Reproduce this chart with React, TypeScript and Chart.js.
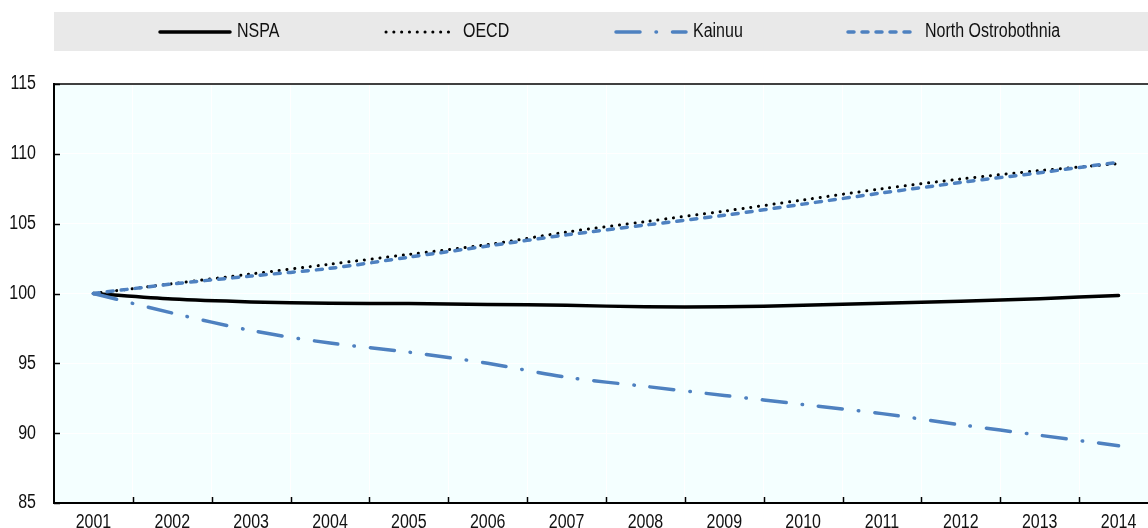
import React, { useEffect, useRef } from "react";
import { Chart, registerables } from "chart.js";

Chart.register(...registerables);

// ---- Data ----
const years = ["2001", "2002", "2003", "2004", "2005", "2006", "2007", "2008", "2009", "2010", "2011", "2012", "2013", "2014"];
const nspa = [100, 99.6, 99.4, 99.3, 99.28, 99.22, 99.15, 99.05, 99.05, 99.15, 99.3, 99.45, 99.63, 99.86];
const oecd = [100, 100.7, 101.4, 102.1, 102.8, 103.5, 104.4, 105.15, 105.9, 106.7, 107.5, 108.2, 108.8, 109.3];
const kainuu = [100, 98.6, 97.35, 96.45, 95.8, 95.0, 94.0, 93.35, 92.7, 92.05, 91.4, 90.6, 89.85, 89.1];
const northOstrobothnia = [100, 100.68, 101.25, 101.8, 102.6, 103.4, 104.2, 104.9, 105.6, 106.4, 107.2, 107.95, 108.65, 109.4];
const seriesNames = ["NSPA", "OECD", "Kainuu", "North Ostrobothnia"];
const yMin = 85;
const yMax = 115;
const yStep = 5;

const BLUE = "#4E81C0";
const FONT = "'Liberation Sans', Arial, Helvetica, sans-serif";
const FONT_SIZE = 19.5;
const NARROW = 0.82;

function narrowText(ctx: CanvasRenderingContext2D, text: string, x: number, y: number, align: CanvasTextAlign) {
  ctx.save();
  ctx.translate(x, y);
  ctx.scale(NARROW, 1);
  ctx.font = `${FONT_SIZE}px ${FONT}`;
  ctx.fillStyle = "#111111";
  ctx.textAlign = align;
  ctx.textBaseline = "middle";
  ctx.fillText(text, 0, 0);
  ctx.restore();
}

export default function App() {
  const ref = useRef<HTMLCanvasElement>(null);

  useEffect(() => {
    const canvas = ref.current;
    if (!canvas) return;

    const decorPlugin = {
      id: "decor",
      beforeDraw(chart: any) {
        const { ctx, chartArea: a } = chart;
        ctx.save();
        ctx.fillStyle = "#E9E9E9";
        ctx.fillRect(a.left, 12, chart.width - a.left, 39);
        ctx.fillStyle = "#F4FFFF";
        ctx.fillRect(a.left, a.top, a.right - a.left, a.bottom - a.top);
        ctx.restore();
      },
      afterDraw(chart: any) {
        const { ctx, chartArea: a } = chart;
        const xs = chart.scales.x;
        const ys = chart.scales.y;
        ctx.save();
        // top border
        ctx.strokeStyle = "#000";
        ctx.lineWidth = 1.5;
        ctx.beginPath();
        ctx.moveTo(a.left, a.top);
        ctx.lineTo(a.right, a.top);
        ctx.stroke();
        // inward x ticks between categories
        const band = xs.getPixelForValue(1) - xs.getPixelForValue(0);
        for (let i = 1; i < years.length; i++) {
          const x = Math.round(xs.getPixelForValue(i) - band / 2) + 0.5;
          ctx.beginPath();
          ctx.moveTo(x, a.bottom);
          ctx.lineTo(x, a.bottom - 6);
          ctx.stroke();
        }
        // inward y ticks + y labels
        ys.ticks.forEach((t: any) => {
          const yp = ys.getPixelForValue(t.value);
          const y = Math.round(yp) + 0.5;
          ctx.beginPath();
          ctx.moveTo(a.left, y);
          ctx.lineTo(a.left + 6, y);
          ctx.stroke();
          narrowText(ctx, String(t.value), a.left - 18, yp, "right");
        });
        // x labels
        years.forEach((lab, i) => {
          narrowText(ctx, lab, xs.getPixelForValue(i), a.bottom + 19.5, "center");
        });
        // legend
        const offsets = [106, 332, 562, 794];
        const ly = 32;
        chart.data.datasets.forEach((ds: any, i: number) => {
          const x0 = a.left + offsets[i];
          ctx.save();
          ctx.strokeStyle = ds.borderColor;
          ctx.lineWidth = ds.borderWidth;
          ctx.lineCap = ds.borderCapStyle || "butt";
          ctx.setLineDash(ds.borderDash || []);
          ctx.beginPath();
          ctx.moveTo(x0, ly);
          ctx.lineTo(x0 + 70, ly);
          ctx.stroke();
          ctx.restore();
          narrowText(ctx, ds.label, x0 + 77, ly, "left");
        });
        ctx.restore();
      },
    };

    const chart = new Chart(canvas, {
      type: "line",
      data: {
        labels: years,
        datasets: [
          { label: seriesNames[0], data: nspa, borderColor: "#000000", borderWidth: 3.5, borderCapStyle: "round", pointRadius: 0, tension: 0.3, order: 3 },
          { label: seriesNames[1], data: oecd, borderColor: "#000000", borderWidth: 3, borderDash: [0.1, 7.7], borderCapStyle: "round", pointRadius: 0, tension: 0.3, order: 2 },
          { label: seriesNames[2], data: kainuu, borderColor: BLUE, borderWidth: 3.5, borderDash: [24, 16, 0.5, 16], borderCapStyle: "round", pointRadius: 0, tension: 0.3, order: 1 },
          { label: seriesNames[3], data: northOstrobothnia, borderColor: BLUE, borderWidth: 3.5, borderDash: [6, 8], borderCapStyle: "round", pointRadius: 0, tension: 0.3, order: 0 },
        ],
      },
      options: {
        animation: false,
        responsive: false,
        devicePixelRatio: 1,
        layout: { padding: { top: 84, right: 4, left: 54, bottom: 25 } },
        plugins: {
          legend: { display: false },
          tooltip: { enabled: false },
        },
        scales: {
          x: {
            type: "category",
            offset: true,
            grid: { offset: true, color: "#FFFFFF", lineWidth: 1, drawTicks: false },
            border: { color: "#000000", width: 2 },
            ticks: { display: false, autoSkip: false },
          },
          y: {
            min: yMin,
            max: yMax,
            ticks: { display: false, stepSize: yStep },
            grid: { color: "#FFFFFF", lineWidth: 1, drawTicks: false },
            border: { color: "#000000", width: 2 },
          },
        },
      } as any,
      plugins: [decorPlugin],
    });

    return () => chart.destroy();
  }, []);

  return (
    <div style={{ position: "fixed", left: 0, top: 0, width: 1148, height: 528, overflow: "hidden", background: "#fff" }}>
      <canvas ref={ref} width={1162} height={528} style={{ display: "block", position: "absolute", left: 0, top: 0 }} />
    </div>
  );
}
